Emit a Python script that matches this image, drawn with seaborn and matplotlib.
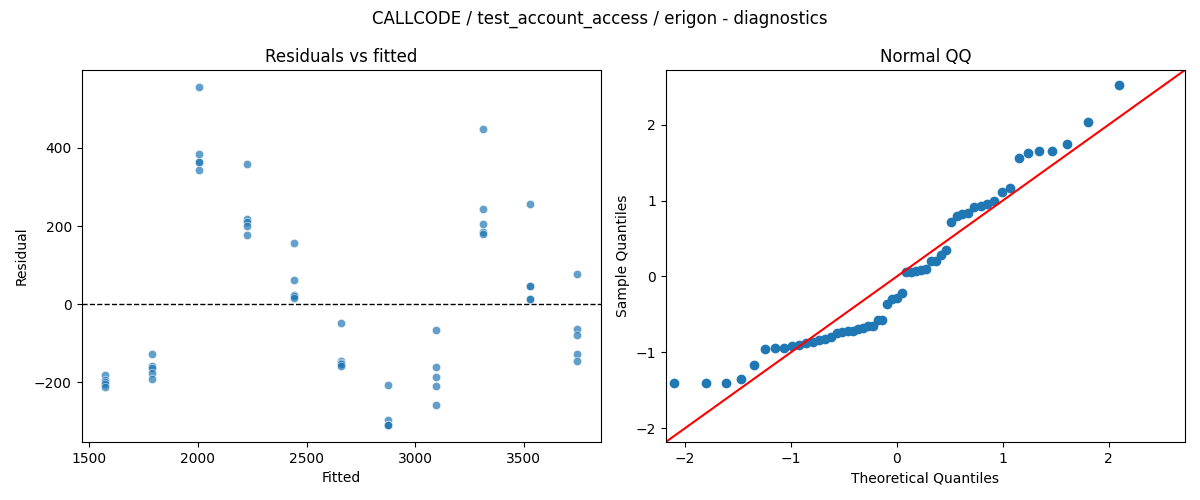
import numpy as np
import pandas as pd
import matplotlib
matplotlib.use("Agg")
import matplotlib.pyplot as plt
import seaborn as sns
from statistics import NormalDist

# fitted levels (one per group) and residuals
fitted_levels = [1573, 1790, 2007, 2225, 2442, 2659, 2877, 3094, 3311, 3529, 3746]
resid_groups = [
    [-181, -194, -200, -203, -211],
    [-127, -158, -164, -177, -190],
    [556, 385, 365, 365, 343],
    [359, 219, 211, 201, 177],
    [157, 62, 23, 20, 15],
    [-49, -145, -150, -154, -158],
    [-207, -297, -309, -309, -309],
    [-66, -161, -186, -209, -258],
    [449, 244, 206, 185, 180],
    [257, 46, 46, 13, 13],
    [78, -64, -79, -126, -144],
]

title = "CALLCODE / test_account_access / erigon - diagnostics"

rows = []
for f, rs in zip(fitted_levels, resid_groups):
    for r in rs:
        rows.append({"fitted": f, "resid": r})
df = pd.DataFrame(rows)

# QQ: standardized residuals vs normal quantiles
z = (df["resid"] - df["resid"].mean()) / df["resid"].std(ddof=0)
sample_q = np.sort(z.values)
n = len(sample_q)
theo_q = np.array([NormalDist().inv_cdf(i / (n + 1)) for i in range(1, n + 1)])

fig, (ax1, ax2) = plt.subplots(1, 2, figsize=(12, 5), dpi=100)
fig.subplots_adjust(left=0.068, right=0.9875, bottom=0.116, top=0.86, wspace=0.125)

sns.scatterplot(data=df, x="fitted", y="resid", alpha=0.7, ax=ax1)
ax1.axhline(0, color="black", linestyle="--", linewidth=1)
ax1.set_title("Residuals vs fitted")
ax1.set_xlabel("Fitted")
ax1.set_ylabel("Residual")

sns.scatterplot(x=theo_q, y=sample_q, s=36, linewidth=1, color="C0", edgecolor="C0", ax=ax2)
lims = [-2.18, 2.72]
ax2.plot(lims, lims, color="r", linewidth=1.5)
ax2.set_xlim(lims)
ax2.set_ylim(lims)
ax2.set_title("Normal QQ")
ax2.set_xlabel("Theoretical Quantiles")
ax2.set_ylabel("Sample Quantiles")

fig.suptitle(title, fontsize=12)
fig.savefig("out.png", dpi=100)
